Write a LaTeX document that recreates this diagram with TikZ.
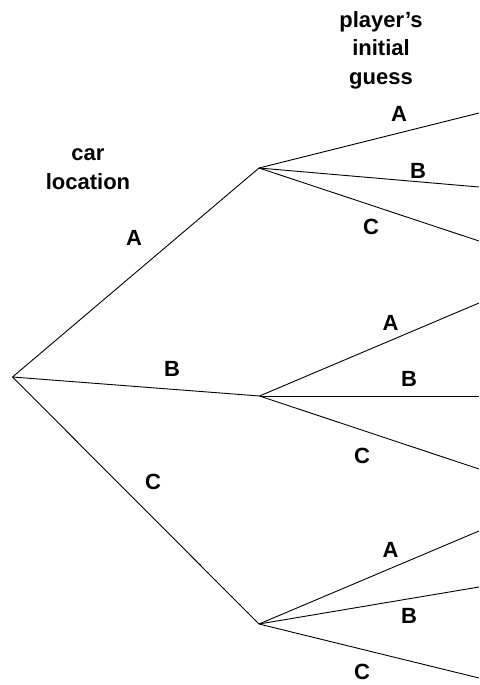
\documentclass[tikz,border=0pt]{standalone}
\usepackage{fontspec}
\setmainfont{Liberation Sans}
\begin{document}
\begin{tikzpicture}[x=1pt,y=-1pt,
  edge/.style={line width=0.9pt, black},
  lab/.style={font=\bfseries\fontsize{22}{28.5}\selectfont, inner sep=0pt, align=center}]
\useasboundingbox (0,0) rectangle (479,685);
% tree points
\coordinate (root) at (12.5,377);
\coordinate (nA) at (259,168);
\coordinate (nB) at (259.5,396);
\coordinate (nC) at (259,624);
\coordinate (lAA) at (479,113);
\coordinate (lAB) at (479,187);
\coordinate (lAC) at (479,241);
\coordinate (lBA) at (479,303);
\coordinate (lBB) at (479,396);
\coordinate (lBC) at (479,469);
\coordinate (lCA) at (479,531);
\coordinate (lCB) at (479,587);
\coordinate (lCC) at (479,678);
% edges
\draw[edge] (root) -- (nA);
\draw[edge] (root) -- (nB);
\draw[edge] (root) -- (nC);
\draw[edge] (nA) -- (lAA);
\draw[edge] (nA) -- (lAB);
\draw[edge] (nA) -- (lAC);
\draw[edge] (nB) -- (lBA);
\draw[edge] (nB) -- (lBB);
\draw[edge] (nB) -- (lBC);
\draw[edge] (nC) -- (lCA);
\draw[edge] (nC) -- (lCB);
\draw[edge] (nC) -- (lCC);
% headings
\node[lab, anchor=north] (guess) at (381,11) {player’s\\initial\\guess};
\node[lab, anchor=north] (carloc) at (88,148.6) {car\\location};
% edge labels
\node[lab] (tA) at (134,238) {A};
\node[lab] (tB) at (172,369) {B};
\node[lab] (tC) at (153,482) {C};
\node[lab] (tAA) at (399,114) {A};
\node[lab] (tAB) at (418,171) {B};
\node[lab] (tAC) at (371,227) {C};
\node[lab] (tBA) at (390.5,322.5) {A};
\node[lab] (tBB) at (409,379) {B};
\node[lab] (tBC) at (362,456) {C};
\node[lab] (tCA) at (390.5,549.5) {A};
\node[lab] (tCB) at (409,616) {B};
\node[lab] (tCC) at (362,672) {C};
\end{tikzpicture}
\end{document}
